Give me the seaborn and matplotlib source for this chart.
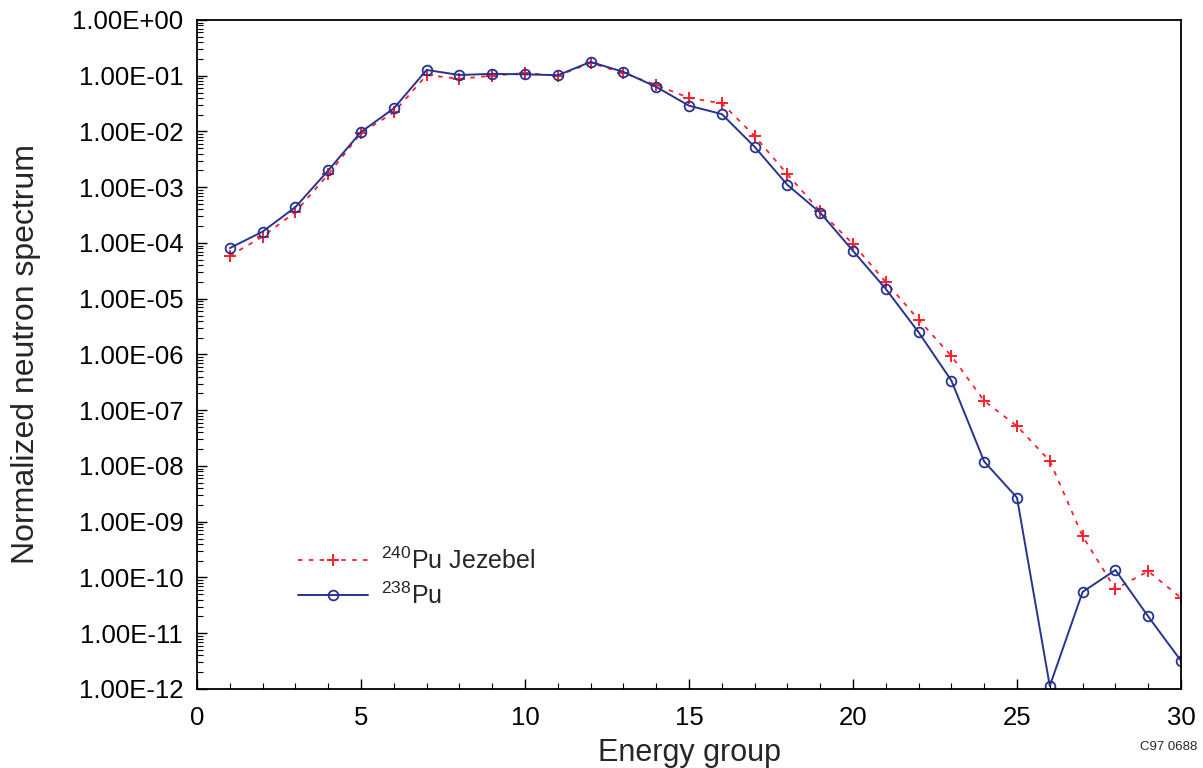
import numpy as np
import pandas as pd
import matplotlib
matplotlib.use("Agg")
import matplotlib.pyplot as plt
import matplotlib.ticker as mticker
import seaborn as sns

# Energy groups and spectra
groups = list(range(1, 31))
pu240_jezebel = [5.9e-5, 1.3e-4, 3.6e-4, 1.7e-3, 9.4e-3, 2.2e-2, 0.103, 0.088, 0.10, 0.112,
                 0.10, 0.17, 0.112, 0.068, 0.040, 0.032, 8.3e-3, 1.7e-3, 3.7e-4, 9.6e-5,
                 2.0e-5, 4.2e-6, 9.4e-7, 1.47e-7, 5.2e-8, 1.23e-8, 5.5e-10, 6.2e-11, 1.3e-10, 4.3e-11]
pu238 = [8.1e-5, 1.6e-4, 4.4e-4, 2.0e-3, 9.8e-3, 2.6e-2, 0.127, 0.103, 0.108, 0.106,
         0.102, 0.177, 0.117, 0.063, 0.029, 0.0205, 5.3e-3, 1.1e-3, 3.5e-4, 7.2e-5,
         1.5e-5, 2.5e-6, 3.4e-7, 1.2e-8, 2.7e-9, 1.13e-12, 5.5e-11, 1.36e-10, 2.0e-11, 3.2e-12]
y_ticks = [10.0 ** e for e in range(-12, 1)]

sns.set_style("ticks")
plt.rcParams["font.family"] = ["Liberation Sans", "DejaVu Sans"]
plt.rcParams["mathtext.fontset"] = "custom"
plt.rcParams["mathtext.rm"] = "Liberation Sans"
plt.rcParams["mathtext.it"] = "Liberation Sans:italic"

df = pd.DataFrame({"group": groups, "pu240": pu240_jezebel, "pu238": pu238})

fig = plt.figure(figsize=(12.03, 7.68), dpi=100)
ax = fig.add_axes([0.1638, 0.1029, 0.8179, 0.8711])

red = "#ff1f2a"
blue = "#27348f"

sns.lineplot(data=df, x="group", y="pu240", ax=ax, color=red, linestyle=(0, (2.5, 3.5)),
             linewidth=1.3, marker="+", markersize=9, markeredgecolor=red,
             markeredgewidth=1.4, label=r"$^{\mathrm{240}}$Pu Jezebel")
sns.lineplot(data=df, x="group", y="pu238", ax=ax, color=blue, linewidth=1.4,
             marker="o", markersize=7, markerfacecolor="none", markeredgecolor=blue,
             markeredgewidth=1.3, label=r"$^{\mathrm{238}}$Pu")

ax.set_yscale("log")
ax.set_xlim(0, 30)
ax.set_ylim(1e-12, 1e0)
ax.set_yticks(y_ticks)
ax.yaxis.set_major_formatter(mticker.FuncFormatter(lambda v, p: "%.2E" % v))
ax.yaxis.set_minor_locator(mticker.LogLocator(base=10, subs=np.arange(2, 10), numticks=100))
ax.yaxis.set_minor_formatter(mticker.NullFormatter())
ax.set_xticks([0, 5, 10, 15, 20, 25, 30])
ax.xaxis.set_minor_locator(mticker.MultipleLocator(1))

ax.tick_params(which="both", direction="in", top=False, right=False, colors="black")
ax.tick_params(which="major", length=7, width=1, labelsize=18.5)
ax.tick_params(axis="y", which="major", pad=10)
ax.tick_params(axis="x", which="major", pad=12)
ax.tick_params(which="minor", length=4, width=0.8)
for s in ax.spines.values():
    s.set_linewidth(1.3)
    s.set_color("black")

ax.set_xlabel("Energy group", fontsize=22, labelpad=6)
ax.set_ylabel("Normalized neutron spectrum", fontsize=23, labelpad=22)

leg = ax.legend(loc="upper left", bbox_to_anchor=(0.08, 0.245), frameon=False,
                fontsize=18, handlelength=2.8, handletextpad=0.5, labelspacing=0.35)

fig.text(0.995, 0.0195, "C97 0688", fontsize=9.5, ha="right", va="bottom")

fig.savefig("out.png", dpi=100)
